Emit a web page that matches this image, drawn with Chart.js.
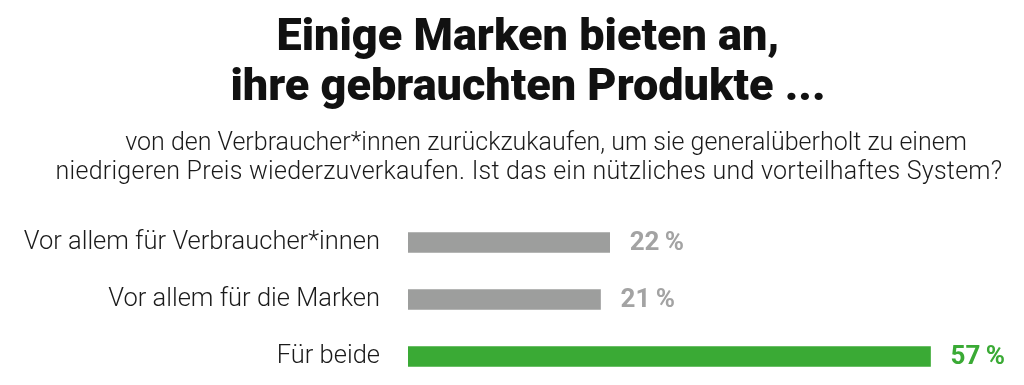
<!DOCTYPE html>
<html>
<head>
<meta charset="utf-8">
<script src="https://cdn.jsdelivr.net/npm/chart.js@4.4.1/dist/chart.umd.min.js"></script>
<style>
html,body{margin:0;padding:0;background:#fff;overflow:hidden;}
canvas{display:block;}
</style>
</head>
<body>
<canvas id="c" width="1024" height="385"></canvas>
<script>
const titleLines = ["Einige Marken bieten an,", "ihre gebrauchten Produkte ..."];
const subtitleLines = ["von den Verbraucher*innen zurückzukaufen, um sie generalüberholt zu einem", "niedrigeren Preis wiederzuverkaufen. Ist das ein nützliches und vorteilhaftes System?"];
const categories = ["Vor allem für Verbraucher*innen", "Vor allem für die Marken", "Für beide"];
const values = [22, 21, 57];
const barColors = ["#9d9e9d", "#9d9e9d", "#3aaa35"];
const labelColors = ["#a3a3a3", "#a3a3a3", "#3aaa35"];

const headerPlugin = {
  id: 'header',
  afterDraw(chart) {
    const ctx = chart.ctx;
    ctx.save();
    ctx.fillStyle = '#111';
    ctx.textAlign = 'center';
    ctx.textBaseline = 'alphabetic';
    ctx.font = '900 45px Roboto';
    ctx.fillText(titleLines[0], 528, 50);
    ctx.fillText(titleLines[1], 528, 100);
    ctx.fillStyle = '#1a1a1a';
    ctx.font = '300 25px Roboto';
    ctx.fillText(subtitleLines[0], 546, 150);
    ctx.letterSpacing = '0.25px';
    ctx.fillText(subtitleLines[1], 529, 179);
    ctx.letterSpacing = '0px';
    ctx.restore();
  }
};

const valueLabelPlugin = {
  id: 'valueLabels',
  afterDatasetsDraw(chart) {
    const ctx = chart.ctx;
    const meta = chart.getDatasetMeta(0);
    ctx.save();
    ctx.font = 'bold 26px Roboto';
    ctx.textAlign = 'left';
    ctx.textBaseline = 'middle';
    meta.data.forEach((bar, i) => {
      ctx.fillStyle = labelColors[i];
      ctx.fillText(values[i] + '\u2009%', bar.x + 20, bar.y + 1);
    });
    ctx.restore();
  }
};

new Chart(document.getElementById('c'), {
  type: 'bar',
  data: {
    labels: categories,
    datasets: [{
      data: values,
      backgroundColor: barColors,
      borderWidth: 0,
      barThickness: 20
    }]
  },
  options: {
    indexAxis: 'y',
    responsive: false,
    animation: false,
    layout: { padding: { top: 214, bottom: 0, left: 0, right: 66 } },
    plugins: { legend: { display: false }, tooltip: { enabled: false }, title: { display: false } },
    scales: {
      x: { display: false, min: 0, max: 60 },
      y: {
        grid: { display: false },
        border: { display: false },
        ticks: { color: '#1a1a1a', font: { family: 'Roboto', size: 25.5, weight: 300 }, padding: 20 },
        afterFit(scale) { scale.width = 408; scale.paddingTop = 0; scale.paddingBottom = 0; }
      }
    }
  },
  plugins: [headerPlugin, valueLabelPlugin]
});
</script>
</body>
</html>
